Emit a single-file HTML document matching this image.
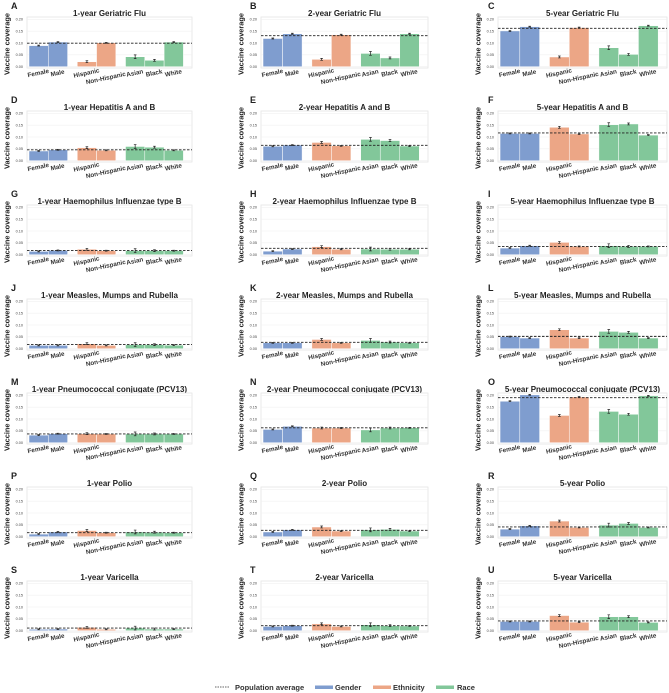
<!DOCTYPE html>
<html><head><meta charset="utf-8"><style>
html,body{margin:0;padding:0;background:#fff;}
svg{display:block;font-family:"Liberation Sans",sans-serif;}
</style></head><body>
<svg id="fig" width="669" height="693" viewBox="0 0 669 693" xmlns="http://www.w3.org/2000/svg"></svg>
<script>
const categories = ["Female","Male","Hispanic","Non-Hispanic","Asian","Black","White"];
const groups = ["gender","gender","ethnicity","ethnicity","race","race","race"];
const yTicks = [0, 0.05, 0.10, 0.15, 0.20];
const yTickLabels = ["0.00","0.05","0.10","0.15","0.20"];
const panelLetters = ["A","B","C","D","E","F","G","H","I","J","K","L","M","N","O","P","Q","R","S","T","U"];
const panelTitles = [
 "1-year Geriatric Flu","2-year Geriatric Flu","5-year Geriatric Flu",
 "1-year Hepatitis A and B","2-year Hepatitis A and B","5-year Hepatitis A and B",
 "1-year Haemophilus Influenzae type B","2-year Haemophilus Influenzae type B","5-year Haemophilus Influenzae type B",
 "1-year Measles, Mumps and Rubella","2-year Measles, Mumps and Rubella","5-year Measles, Mumps and Rubella",
 "1-year Pneumococcal conjugate (PCV13)","2-year Pneumococcal conjugate (PCV13)","5-year Pneumococcal conjugate (PCV13)",
 "1-year Polio","2-year Polio","5-year Polio",
 "1-year Varicella","2-year Varicella","5-year Varicella"];
const coverageValues = [
 [0.089,0.104,0.021,0.101,0.042,0.027,0.104],
 [0.119,0.139,0.031,0.135,0.056,0.037,0.139],
 [0.151,0.169,0.041,0.165,0.080,0.052,0.173],
 [0.041,0.046,0.055,0.044,0.060,0.057,0.044],
 [0.061,0.066,0.077,0.063,0.090,0.085,0.062],
 [0.115,0.115,0.141,0.113,0.152,0.155,0.108],
 [0.014,0.018,0.023,0.017,0.017,0.017,0.017],
 [0.015,0.024,0.034,0.023,0.024,0.023,0.023],
 [0.028,0.038,0.052,0.035,0.038,0.035,0.035],
 [0.014,0.014,0.021,0.014,0.017,0.017,0.015],
 [0.025,0.025,0.039,0.025,0.035,0.028,0.025],
 [0.051,0.045,0.080,0.045,0.073,0.069,0.045],
 [0.032,0.038,0.038,0.037,0.037,0.037,0.037],
 [0.056,0.069,0.062,0.062,0.054,0.062,0.063],
 [0.175,0.202,0.115,0.193,0.132,0.120,0.198],
 [0.011,0.020,0.026,0.017,0.020,0.019,0.017],
 [0.020,0.029,0.041,0.024,0.029,0.031,0.024],
 [0.032,0.046,0.066,0.039,0.049,0.056,0.039],
 [0.006,0.007,0.014,0.006,0.011,0.007,0.007],
 [0.018,0.021,0.029,0.018,0.025,0.021,0.020],
 [0.039,0.039,0.064,0.036,0.059,0.059,0.035]];
const populationAverage = [0.099,0.131,0.162,0.046,0.065,0.117,0.018,0.027,0.035,0.018,0.027,0.052,0.037,0.063,0.190,0.017,0.027,0.041,0.011,0.021,0.041];
const errorHalfWidth = [0.002,0.002,0.004,0.002,0.008,0.004,0.002];

const colors = {gender:"#7f9dcf", ethnicity:"#eca686", race:"#82c79a"};
const NS = "http://www.w3.org/2000/svg";
const svg = document.getElementById('fig');
function mk(tag, attrs, parent, text){
  const e = document.createElementNS(NS, tag);
  for (const k in attrs) e.setAttribute(k, attrs[k]);
  if (text !== undefined) e.textContent = text;
  (parent||svg).appendChild(e);
  return e;
}
const colLeft = [27, 261, 498], colRight = [192, 428, 667], letterX = [11, 250, 488];
const slotIdx = [0,1,2.5,3.5,5,6,7];

panelTitles.forEach((title, p) => {
  const r = Math.floor(p/3), c = p%3;
  const L = colLeft[c], R = colRight[c], W = R-L;
  const oy = 94*r;
  const top = 17+oy, bot = 68+oy;
  const yScale = v => 66.7+oy - v*237;
  const unit = 19.3/165*W, x0 = L + 2/165*W;
  const xScale = i => x0 + slotIdx[i]*unit;
  const g = mk('g', {});
  
  
  const lt = mk('text', {x:letterX[c], y:9+oy, 'font-size':9, 'font-weight':'bold', fill:'#222'}, g, panelLetters[p]);
   
  const tt = mk('text', {x:(L+R)/2, y:16+oy, 'font-size':8, 'font-weight':'bold', fill:'#222', 'text-anchor':'middle'}, g, title);
   
  const bg = mk('rect', {x:L, y:top, width:W, height:bot-top, fill:'#fff', stroke:'#e4e4e4', 'stroke-width':0.8}, g);
   
  yTicks.forEach((t, i) => {
    const gl = mk('line', {x1:L, x2:R, y1:yScale(t), y2:yScale(t), stroke:'#f0f0f0', 'stroke-width':0.6}, g);
     
    const tl = mk('text', {x:L-4, y:yScale(t)+1.3, 'font-size':3.8, fill:'#444', 'text-anchor':'end'}, g, yTickLabels[i]);
     
  });
  const yl = mk('text', {x:0, y:0, 'font-size':7.4, 'font-weight':'bold', fill:'#222', 'text-anchor':'middle', transform:`translate(${L-17.5},${44+oy}) rotate(-90)`}, g, 'Vaccine coverage');
   
  coverageValues[p].forEach((v, i) => {
    const x = xScale(i), yv = yScale(v), y0 = yScale(0);
    const b = mk('rect', {x:x, y:Math.min(yv,y0), width:unit, height:Math.abs(y0-yv), fill:colors[groups[i]], stroke:'#fff', 'stroke-width':0.5}, g);
    
    
    const e = errorHalfWidth[i], cx = x+unit/2;
    const eb = mk('path', {d:`M${cx},${yScale(v+e)}V${yScale(v-e)}M${cx-1.3},${yScale(v+e)}H${cx+1.3}M${cx-1.3},${yScale(v-e)}H${cx+1.3}`, stroke:'#222', 'stroke-width':0.7, fill:'none'}, g);
     
    const ly = categories[i]==='Non-Hispanic' ? 80+oy : 75+oy;
    const xl = mk('text', {x:0, y:0, 'font-size':6.3, 'font-weight':'bold', fill:'#333', 'text-anchor':'middle', transform:`translate(${cx},${ly}) rotate(-12)`}, g, categories[i]);
     
  });
  const av = mk('line', {x1:L, x2:R, y1:yScale(populationAverage[p]), y2:yScale(populationAverage[p]), stroke:'#222', 'stroke-width':0.9, 'stroke-dasharray':'2.5,1.5'}, g);
   
});

const lg = mk('g', {});
 
const l1 = mk('line', {x1:215, x2:230, y1:687, y2:687, stroke:'#333', 'stroke-width':0.8, 'stroke-dasharray':'1.5,1'}, lg);
 
mk('text', {x:235, y:690, 'font-size':7.5, 'font-weight':'bold', fill:'#333'}, lg, 'Population average');
[["Gender",315,334,colors.gender],["Ethnicity",373,392,colors.ethnicity],["Race",436,456,colors.race]].forEach(it => {
  const r = mk('rect', {x:it[1], y:685.5, width:18, height:3.5, fill:it[3]}, lg);
   
  mk('text', {x:it[2]+1, y:690, 'font-size':7.5, 'font-weight':'bold', fill:'#333'}, lg, it[0]);
});
</script>
</body></html>
